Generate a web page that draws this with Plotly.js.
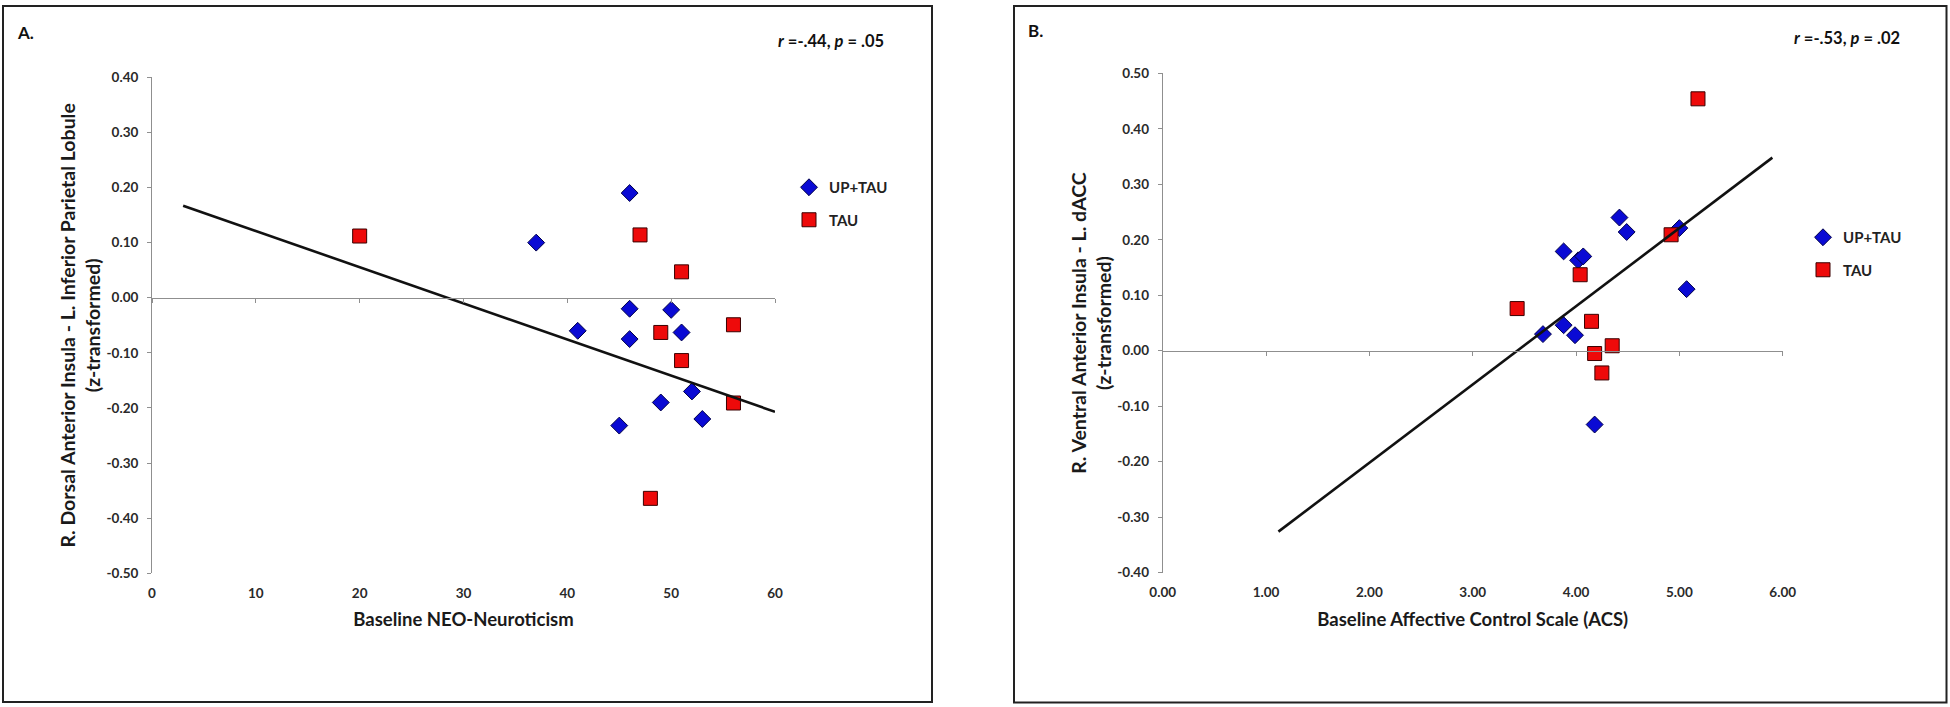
<!DOCTYPE html>
<html><head><meta charset="utf-8">
<script src="https://cdn.plot.ly/plotly-3.0.1.min.js"></script>
<style>html,body{margin:0;padding:0;background:#fff}</style>
</head><body><div id="chart" style="width:1950px;height:707px"></div>
<script>
// ---------- Panel A data ----------
const neoUpTau   = [46, 37, 46, 50, 41, 46, 51, 52, 49, 53, 45];
const connUpTauA = [0.19, 0.10, -0.02, -0.022, -0.06, -0.075, -0.063, -0.17, -0.19, -0.22, -0.232];
const neoTau     = [20, 47, 51, 49, 56, 51, 56, 48];
const connTauA   = [0.112, 0.114, 0.047, -0.063, -0.049, -0.114, -0.191, -0.364];
const trendXA    = [3, 60];
const trendYA    = [0.167, -0.207];
const xTicksA    = [0, 10, 20, 30, 40, 50, 60];
const xLabelsA   = ['0', '10', '20', '30', '40', '50', '60'];
const yTicksA    = [-0.5, -0.4, -0.3, -0.2, -0.1, 0, 0.1, 0.2, 0.3, 0.4];
const yLabelsA   = ['-0.50', '-0.40', '-0.30', '-0.20', '-0.10', '0.00', '0.10', '0.20', '0.30', '0.40'];

// ---------- Panel B data ----------
const acsUpTau   = [4.42, 4.49, 5.00, 3.88, 4.02, 4.07, 5.07, 3.88, 3.68, 3.99, 4.18];
const connUpTauB = [0.240, 0.214, 0.221, 0.179, 0.163, 0.170, 0.111, 0.046, 0.030, 0.028, -0.133];
const acsTau     = [5.18, 4.92, 4.04, 3.43, 4.15, 4.35, 4.18, 4.25];
const connTauB   = [0.454, 0.209, 0.137, 0.076, 0.053, 0.009, -0.005, -0.040];
const trendXB    = [1.12, 5.90];
const trendYB    = [-0.326, 0.348];
const xTicksB    = [0, 1, 2, 3, 4, 5, 6];
const xLabelsB   = ['0.00', '1.00', '2.00', '3.00', '4.00', '5.00', '6.00'];
const yTicksB    = [-0.4, -0.3, -0.2, -0.1, 0, 0.1, 0.2, 0.3, 0.4, 0.5];
const yLabelsB   = ['-0.40', '-0.30', '-0.20', '-0.10', '0.00', '0.10', '0.20', '0.30', '0.40', '0.50'];

const seriesNames = ['UP+TAU', 'TAU'];

// ---------- layout helpers ----------
const W = 1950, H = 707;
const px = v => v / W;
const py = v => 1 - v / H;
const FONT = 'Lato, "Open Sans", "DejaVu Sans", sans-serif';
const GRAY = '#8f8f8f';
const BLUE = '#0a0ad4', BLUE_EDGE = '#00004a';
const RED = '#ee0a0a', RED_EDGE = '#3a0000';

const domXA = [px(152), px(775)], domYA = [py(573.3), py(77.3)];
const domXB = [px(1162.7), px(1782.7)], domYB = [py(572.7), py(73.3)];
const rangeXA = [0, 60], rangeYA = [-0.5, 0.4];
const rangeXB = [0, 6], rangeYB = [-0.4, 0.5];
const zeroPos = (dom, r) => dom[0] + (0 - r[0]) / (r[1] - r[0]) * (dom[1] - dom[0]);

const diamond = {symbol: 'diamond', size: 13, color: BLUE, line: {color: BLUE_EDGE, width: 1}};
const square  = {symbol: 'square', size: 14, color: RED, line: {color: RED_EDGE, width: 1}};

const traces = [
  {x: trendXA, y: trendYA, xaxis: 'x3', yaxis: 'y', mode: 'lines', showlegend: false,
   line: {color: '#111', width: 2.6}, hoverinfo: 'skip'},
  {x: neoUpTau, y: connUpTauA, xaxis: 'x', yaxis: 'y', mode: 'markers', name: seriesNames[0],
   legend: 'legend', legendgroup: 'a1', marker: diamond},
  {x: neoTau, y: connTauA, xaxis: 'x', yaxis: 'y', mode: 'markers', name: seriesNames[1],
   legend: 'legend', legendgroup: 'a2', marker: square},

  {x: trendXB, y: trendYB, xaxis: 'x4', yaxis: 'y2', mode: 'lines', showlegend: false,
   line: {color: '#111', width: 2.6}, hoverinfo: 'skip'},
  {x: acsUpTau, y: connUpTauB, xaxis: 'x2', yaxis: 'y2', mode: 'markers', name: seriesNames[0],
   legend: 'legend2', legendgroup: 'b1', marker: diamond},
  {x: acsTau, y: connTauB, xaxis: 'x2', yaxis: 'y2', mode: 'markers', name: seriesNames[1],
   legend: 'legend2', legendgroup: 'b2', marker: square}
];

const tickFont = {family: FONT, size: 13.5, color: '#2a2a2a', weight: 700};
const titleFont = {family: FONT, size: 18.5, color: '#1a1a1a', weight: 700};

function labelAxis(dom, range, vals, text, title, anchor) {
  return {domain: dom, range: range, anchor: anchor, tickvals: vals, ticktext: text,
    ticks: '', showline: false, showgrid: false, zeroline: false,
    tickfont: tickFont, ticklabelstandoff: 10, fixedrange: true,
    title: {text: title, font: titleFont, standoff: 13}};
}
function zeroAxis(dom, range, vals, overlay, pos) {
  return {domain: dom, range: range, overlaying: overlay, anchor: 'free', position: pos,
    tickvals: vals, showticklabels: false, ticks: 'outside', ticklen: 4, tickcolor: GRAY,
    showline: true, linecolor: GRAY, linewidth: 1, showgrid: false, zeroline: false, fixedrange: true};
}
function yAxis(dom, range, vals, text, title, anchor) {
  return {domain: dom, range: range, anchor: anchor, tickvals: vals, ticktext: text,
    ticks: 'outside', ticklen: 4, tickcolor: GRAY, showline: true, linecolor: GRAY, linewidth: 1,
    showgrid: false, zeroline: false, tickfont: tickFont, ticklabelstandoff: 6, fixedrange: true,
    title: {text: title, font: {family: FONT, size: 19.5, color: '#1a1a1a', weight: 700}, standoff: 0}};
}

const layout = {
  width: W, height: H,
  margin: {l: 0, r: 0, t: 0, b: 0, pad: 0},
  paper_bgcolor: '#fff', plot_bgcolor: 'rgba(0,0,0,0)',
  font: {family: FONT, color: '#222'},
  showlegend: true,
  xaxis: labelAxis(domXA, rangeXA, xTicksA, xLabelsA, 'Baseline NEO-Neuroticism', 'y'),
  yaxis: yAxis(domYA, rangeYA, yTicksA, yLabelsA,
    'R. Dorsal Anterior Insula - L. Inferior Parietal Lobule<br>(z-transformed)', 'x'),
  xaxis3: zeroAxis(domXA, rangeXA, xTicksA, 'x', zeroPos(domYA, rangeYA)),
  xaxis2: labelAxis(domXB, rangeXB, xTicksB, xLabelsB, 'Baseline Affective Control Scale (ACS)', 'y2'),
  yaxis2: yAxis(domYB, rangeYB, yTicksB, yLabelsB,
    'R. Ventral Anterior Insula - L. dACC<br>(z-transformed)', 'x2'),
  xaxis4: zeroAxis(domXB, rangeXB, xTicksB, 'x2', zeroPos(domYB, rangeYB)),
  legend: {x: px(789), y: py(171), xanchor: 'left', yanchor: 'top', traceorder: 'grouped',
    tracegroupgap: 10, bgcolor: 'rgba(0,0,0,0)',
    font: {family: FONT, size: 15, color: '#222', weight: 700}},
  legend2: {x: px(1803), y: py(221), xanchor: 'left', yanchor: 'top', traceorder: 'grouped',
    tracegroupgap: 10, bgcolor: 'rgba(0,0,0,0)',
    font: {family: FONT, size: 15, color: '#222', weight: 700}},
  shapes: [
    {type: 'rect', xref: 'paper', yref: 'paper', x0: px(3), x1: px(932), y0: py(702), y1: py(6),
     line: {color: '#222', width: 2}},
    {type: 'rect', xref: 'paper', yref: 'paper', x0: px(1014), x1: px(1946.5), y0: py(702.5), y1: py(6),
     line: {color: '#222', width: 2}}
  ],
  annotations: [
    {text: 'A.', xref: 'paper', yref: 'paper', x: px(15), y: py(32), xanchor: 'left', yanchor: 'middle',
     showarrow: false, font: {family: FONT, size: 17, color: '#111', weight: 700}},
    {text: 'B.', xref: 'paper', yref: 'paper', x: px(1026), y: py(30), xanchor: 'left', yanchor: 'middle',
     showarrow: false, font: {family: FONT, size: 17, color: '#111', weight: 700}},
    {text: '<i>r</i> =-.44, <i>p</i> = .05', xref: 'paper', yref: 'paper', x: px(886), y: py(41.5),
     xanchor: 'right', yanchor: 'middle', showarrow: false,
     font: {family: FONT, size: 16.5, color: '#111', weight: 700}},
    {text: '<i>r</i> =-.53, <i>p</i> = .02', xref: 'paper', yref: 'paper', x: px(1902), y: py(38.3),
     xanchor: 'right', yanchor: 'middle', showarrow: false,
     font: {family: FONT, size: 16.5, color: '#111', weight: 700}}
  ]
};

Plotly.newPlot('chart', traces, layout, {displayModeBar: false, staticPlot: true});
</script></body></html>
